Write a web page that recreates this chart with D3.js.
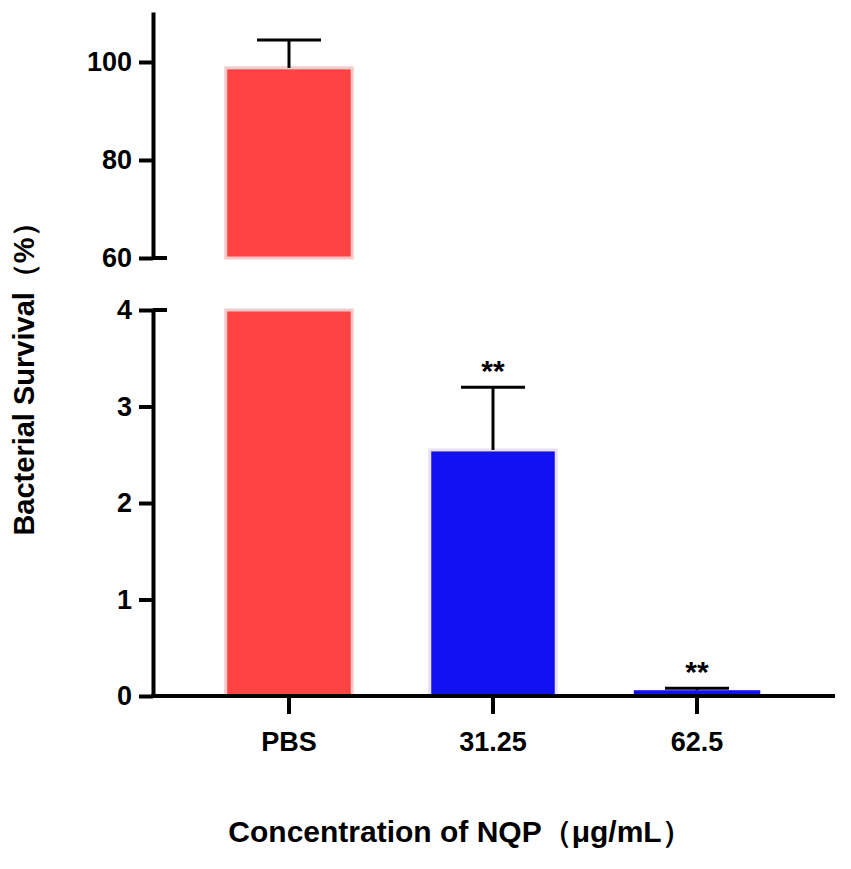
<!DOCTYPE html><html><head><script src="https://d3js.org/d3.v7.min.js"></script>
<style>body{margin:0;background:#fff}</style></head><body><svg width="851" height="869"></svg>
<script>
const categories=["PBS","31.25","62.5"];
const means=[98.8,2.55,0.06];
const errors=[5.7,0.65,0.02];
const sig=["","**","**"];
const colors=["#ff4343","#1010f0","#1010f0"];
const upperTicks=[60,80,100];
const lowerTicks=[0,1,2,3,4];
const svg=d3.select("svg");
const F="Liberation Sans, Arial, sans-serif";
const x=d3.scaleBand().domain(categories).range([187,799]).paddingInner(0.38).paddingOuter(0.19);
const yL=d3.scaleLinear().domain([0,4]).range([696,310]);
const yU=d3.scaleLinear().domain([60,110.2]).range([258,12]);
const X0=153;
categories.forEach((c,i)=>{
  const v=means[i],bx=x(c),bw=x.bandwidth();
  const top=v>4?yU(v):yL(v);
  if(v>4){
    svg.append("rect").attr("x",bx).attr("y",yU(v)).attr("width",bw).attr("height",yU(60)-yU(v)).attr("fill",colors[i]).attr("stroke","#f6c8c8").attr("stroke-width",3);
    svg.append("rect").attr("x",bx).attr("y",yL(4)).attr("width",bw).attr("height",yL(0)-yL(4)).attr("fill",colors[i]).attr("stroke","#f6c8c8").attr("stroke-width",3);
  } else {
    svg.append("rect").attr("x",bx).attr("y",yL(v)).attr("width",bw).attr("height",yL(0)-yL(v)).attr("fill",colors[i]).attr("stroke","#e8e0f0").attr("stroke-width",i==2?0:3);
  }
  const cx=bx+bw/2, cap=v>4?yU(v+errors[i]):yL(v+errors[i]);
  svg.append("line").attr("x1",cx).attr("x2",cx).attr("y1",top).attr("y2",cap).attr("stroke","#000").attr("stroke-width",3);
  svg.append("line").attr("x1",cx-32).attr("x2",cx+32).attr("y1",cap).attr("y2",cap).attr("stroke","#000").attr("stroke-width",3);
  if(sig[i]) svg.append("text").attr("x",cx).attr("y",cap-6).attr("text-anchor","middle").style("font-family",F).style("font-size","30px").style("font-weight","bold").text(sig[i]);
});
const axU=svg.append("g").attr("transform",`translate(${X0},0)`).call(d3.axisLeft(yU).tickValues(upperTicks).tickFormat(d3.format("d")).tickSize(14).tickSizeOuter(0));
const axL=svg.append("g").attr("transform",`translate(${X0},0)`).call(d3.axisLeft(yL).tickValues(lowerTicks).tickFormat(d3.format("d")).tickSize(14).tickSizeOuter(0));
[axU,axL].forEach(a=>{a.select(".domain").attr("stroke-width",4);a.selectAll(".tick line").attr("stroke-width",4);
 a.selectAll("text").style("font-family",F).style("font-size","27px").style("font-weight","bold").attr("dx",-4);});
[258,310].forEach(yy=>svg.append("line").attr("x1",X0).attr("x2",X0+14).attr("y1",yy).attr("y2",yy).attr("stroke","#000").attr("stroke-width",4));
const axX=svg.append("g").attr("transform","translate(0,696)").call(d3.axisBottom(x).tickSize(18).tickSizeOuter(0));
axX.select(".domain").attr("d","M151,0H835").attr("stroke-width",4);
axX.selectAll(".tick line").attr("stroke-width",4);
axX.selectAll("text").style("font-family",F).style("font-size","27px").style("font-weight","bold").attr("dy",34);
svg.append("text").attr("transform","translate(34,372) rotate(-90)").attr("text-anchor","middle").style("font-family",F).style("font-size","29px").style("font-weight","bold").text("Bacterial Survival（%）");
svg.append("text").attr("x",460).attr("y",842).attr("text-anchor","middle").style("font-family",F).style("font-size","30px").style("font-weight","bold").text("Concentration of NQP（μg/mL）");
</script></body></html>
